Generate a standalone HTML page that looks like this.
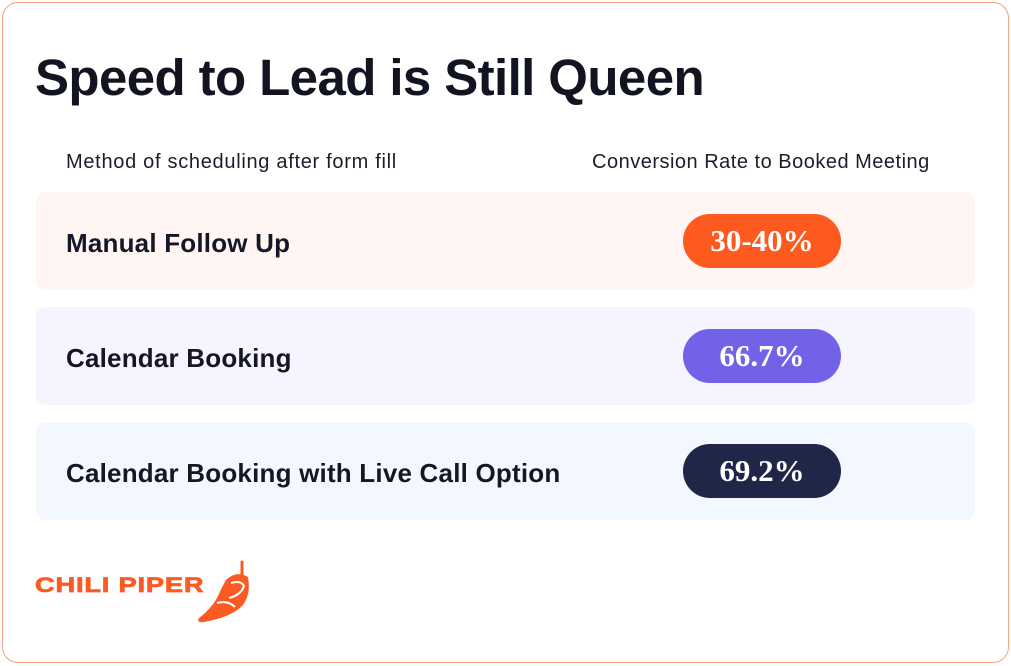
<!DOCTYPE html>
<html>
<head>
<meta charset="utf-8">
<style>
  html,body{margin:0;padding:0;background:#fff;}
  body{width:1011px;height:666px;position:relative;overflow:hidden;font-family:"Liberation Sans",Arial,sans-serif;color:#141625;}
  .card{position:absolute;left:2px;top:2px;width:1007px;height:661px;box-sizing:border-box;border:1.5px solid #f5a283;border-radius:16px;background:#fff;}
  .title{position:absolute;left:35px;top:52px;font-size:51px;line-height:51px;font-weight:bold;letter-spacing:-0.6px;white-space:nowrap;color:#121421;}
  .hdr{position:absolute;top:152px;font-size:20px;line-height:20px;letter-spacing:0.6px;white-space:nowrap;color:#1b1d2b;}
  .row{position:absolute;left:36px;width:939px;height:98px;border-radius:10px;}
  .lbl{position:absolute;left:66px;font-size:26px;line-height:26px;font-weight:bold;white-space:nowrap;color:#151726;letter-spacing:0.2px;}
  .pill{position:absolute;left:683px;width:158px;height:54px;border-radius:27px;color:#fff;text-align:center;font-family:"Liberation Serif","DejaVu Serif",serif;font-weight:bold;font-size:31px;line-height:54px;}
  .logo{position:absolute;left:35px;top:575px;font-size:21px;line-height:21px;font-weight:bold;color:#fb5a22;white-space:nowrap;letter-spacing:0.6px;transform:scaleX(1.3);transform-origin:0 0;-webkit-text-stroke:0.7px #fb5a22;}
</style>
</head>
<body>
<div class="card"></div>
<div class="title">Speed to Lead is Still Queen</div>
<div class="hdr" style="left:66px;letter-spacing:0.7px;">Method of scheduling after form fill</div>
<div class="hdr" style="left:592px;letter-spacing:0.5px;">Conversion Rate to Booked Meeting</div>

<div class="row" style="top:192px;background:#fff5f2;"></div>
<div class="row" style="top:307px;background:#f6f4ff;"></div>
<div class="row" style="top:422px;background:#f3f8ff;"></div>

<div class="lbl" style="top:230px;">Manual Follow Up</div>
<div class="lbl" style="top:345px;">Calendar Booking</div>
<div class="lbl" style="top:460px;">Calendar Booking with Live Call Option</div>

<div class="pill" style="top:214px;background:#fe5a1f;">30-40%</div>
<div class="pill" style="top:329px;background:#7262e8;">66.7%</div>
<div class="pill" style="top:444px;background:#1f2648;">69.2%</div>

<div class="logo">CHILI PIPER</div>
<svg style="position:absolute;left:0;top:0" width="1011" height="666" viewBox="0 0 1011 666">
  <line x1="242" y1="562" x2="242" y2="576" stroke="#fb5a22" stroke-width="3" stroke-linecap="round"/>
  <path d="M226,580 Q236,570 248,577 Q251,594 243,605 Q232,617 204,622 Q196,623 199,618 Q212,608 218,596 Q222,587 226,580 Z" fill="#fb5a22"/>
  <path d="M231,583 Q241,580 244,586 Q241,595 229,598" fill="none" stroke="#fff" stroke-width="2"/>
  <path d="M217,603 Q228,600 235,607" fill="none" stroke="#fff" stroke-width="2"/>
</svg>
</body>
</html>
